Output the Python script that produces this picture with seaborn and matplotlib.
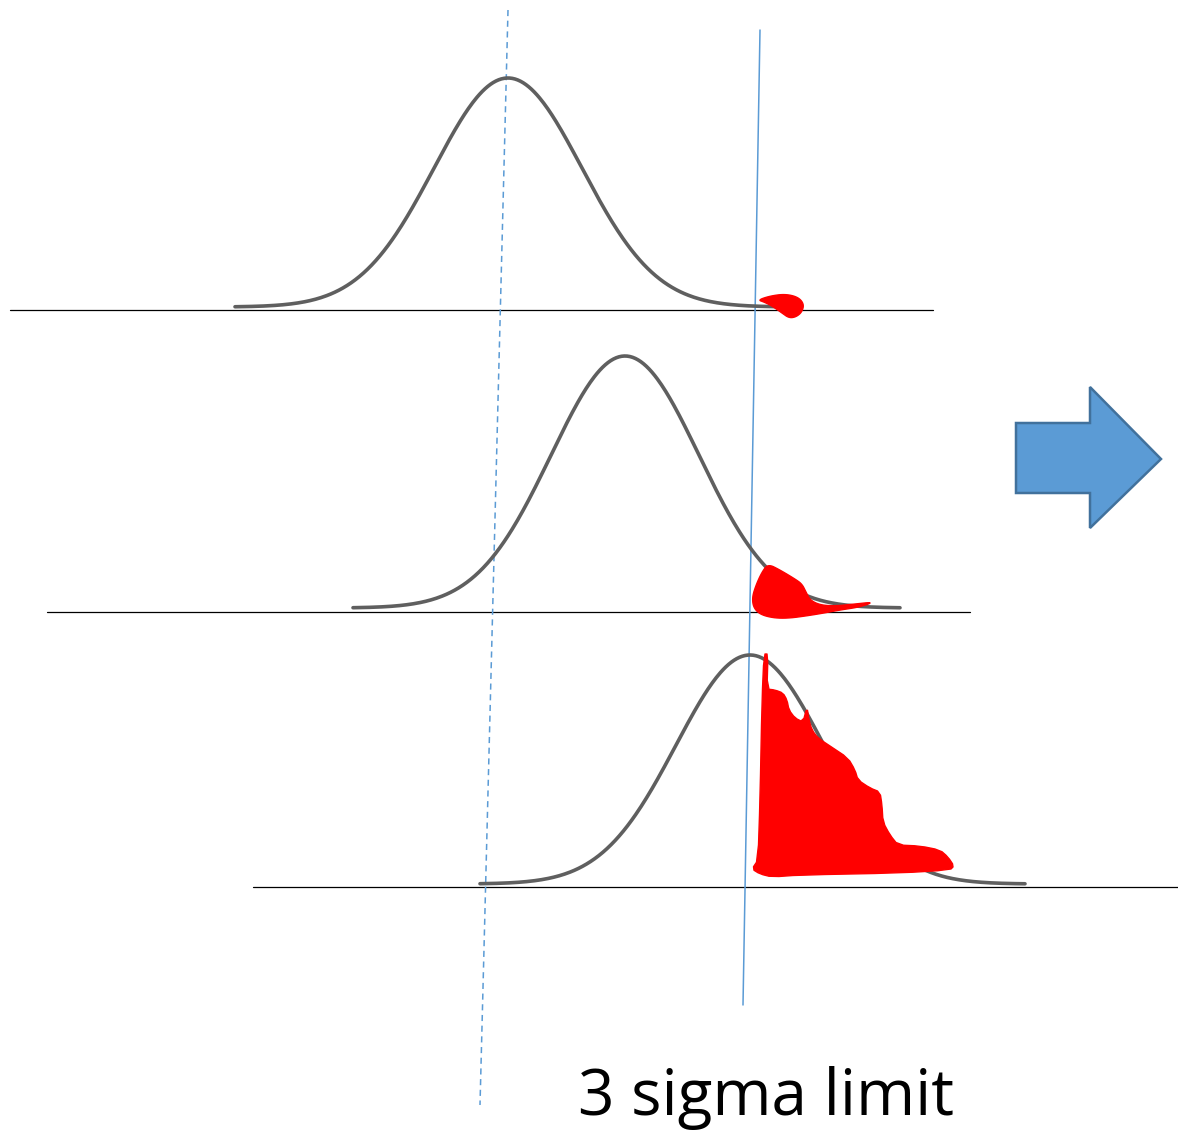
import numpy as np
import pandas as pd
import matplotlib
matplotlib.use("Agg")
import matplotlib.pyplot as plt
from matplotlib.patches import Polygon
import seaborn as sns

sns.set_theme(style="white")
plt.rcParams["font.family"] = ["Open Sans", "DejaVu Sans"]

# Canvas in pixel units (y grows downward)
W, H = 1178, 1131

# Three process distributions: centre, spread, peak height, floor of the curve, span
curve_names = ["before", "shifted", "shifted more"]
curve_means = [508, 625, 750]
curve_sigmas = [74, 74, 74]
curve_heights = [229, 252, 229]
curve_floors = [307, 608, 884]
curve_starts = [235, 353, 480]
curve_ends = [780, 900, 1025]

# Horizontal axis lines under each distribution
axis_y = [310, 612, 887]
axis_x0 = [10, 47, 253]
axis_x1 = [933, 970, 1178]

# Mean line (dashed) and 3-sigma limit line (solid)
mean_line_x = [508, 480]
mean_line_y = [10, 1105]
limit_line_x = [760, 743]
limit_line_y = [30, 1005]

# Out-of-limit regions (outline points)
tail1_x = [758, 770, 785, 798, 804, 802, 796, 789, 782, 772, 764]
tail1_y = [300, 296, 294, 297, 304, 312, 317, 318, 313, 306, 302]

tail2_x = [768, 780, 795, 802, 806, 810, 820, 835, 855, 874, 860, 840, 813, 783, 763, 754, 752, 756, 762]
tail2_y = [564, 570, 579, 584, 592, 600, 605, 606, 604, 602, 607, 610, 615, 619, 616, 609, 598, 585, 572]

tail3_x = [764, 768, 767, 775, 783, 787, 789, 795, 803, 807, 809, 812, 818, 830, 848, 855, 858,
           870, 880, 882, 883, 890, 898, 920, 940, 948, 954, 950, 900, 800, 772, 760, 752, 758, 760, 762]
tail3_y = [654, 654, 689, 690, 693, 700, 710, 718, 722, 707, 720, 730, 738, 746, 758, 770, 780,
           788, 792, 805, 822, 835, 845, 846, 850, 857, 866, 870, 873, 875, 877, 874, 869, 860, 800, 700]
tail_smoothing = [3, 3, 1]

# Block arrow outline
arrow_x = [1016, 1090, 1090, 1161, 1090, 1090, 1016]
arrow_y = [423, 423, 387, 459, 528, 493, 493]

label_text = "3 sigma limit"
label_pos = (766, 1115)


def chaikin(pts, n):
    """Corner-cutting to round a closed outline."""
    for _ in range(n):
        nxt = np.roll(pts, -1, axis=0)
        q = 0.75 * pts + 0.25 * nxt
        r = 0.25 * pts + 0.75 * nxt
        pts = np.empty((2 * len(q), 2))
        pts[0::2] = q
        pts[1::2] = r
    return pts


fig = plt.figure(figsize=(W / 100, H / 100), dpi=100)
ax = fig.add_axes([0, 0, 1, 1])
ax.set_xlim(0, W)
ax.set_ylim(H, 0)
ax.axis("off")

# Baselines
for y, x0, x1 in zip(axis_y, axis_x0, axis_x1):
    ax.plot([x0, x1], [y, y], color="black", lw=0.9, zorder=1)

# Bell curves
frames = []
for name, mu, s, h, f, a, b in zip(curve_names, curve_means, curve_sigmas, curve_heights,
                                   curve_floors, curve_starts, curve_ends):
    xs = np.linspace(a, b, 400)
    ys = f - h * np.exp(-0.5 * ((xs - mu) / s) ** 2)
    frames.append(pd.DataFrame({"x": xs, "y": ys, "curve": name}))
curves = pd.concat(frames, ignore_index=True)
sns.lineplot(data=curves, x="x", y="y", units="curve", estimator=None, sort=False,
             color="#5F5F5F", lw=2.6, ax=ax, zorder=3, legend=False)

# Reference lines
ax.plot(mean_line_x, mean_line_y, color="#5B9BD5", lw=1.1, ls=(0, (4, 3)), zorder=2)
ax.plot(limit_line_x, limit_line_y, color="#5B9BD5", lw=1.1, zorder=2)

# Red regions beyond the limit
for (tx, ty), n in zip([(tail1_x, tail1_y), (tail2_x, tail2_y), (tail3_x, tail3_y)], tail_smoothing):
    outline = chaikin(np.column_stack([tx, ty]).astype(float), n)
    ax.add_patch(Polygon(outline, closed=True, facecolor="#FF0000",
                         edgecolor="#FF0000", lw=1.0, joinstyle="round", zorder=4))

# Arrow
ax.add_patch(Polygon(np.column_stack([arrow_x, arrow_y]), closed=True, facecolor="#5B9BD5",
                     edgecolor="#41719C", lw=1.8, zorder=4))

ax.text(label_pos[0], label_pos[1], label_text, ha="center", va="baseline",
        fontsize=46, color="black")

fig.savefig("out.png", dpi=100)
